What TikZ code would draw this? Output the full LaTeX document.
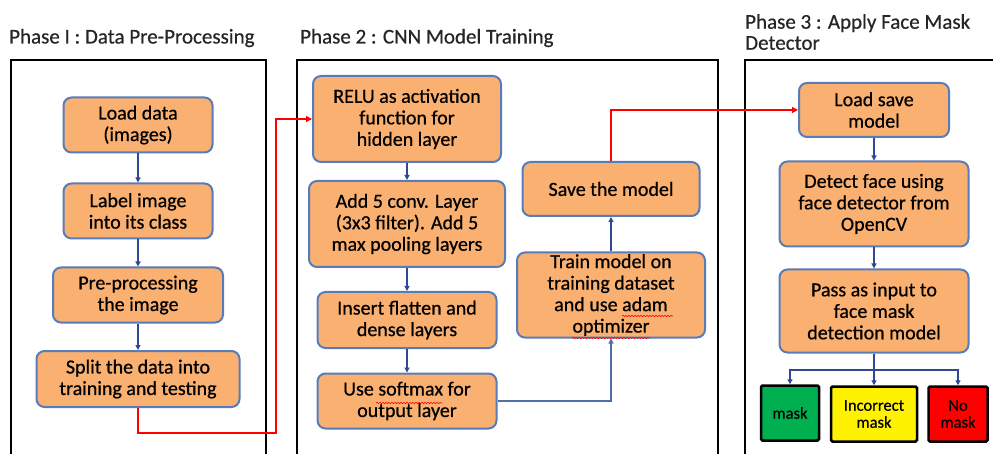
\documentclass[tikz,border=0pt]{standalone}
\usepackage{fontspec}
\setmainfont{Carlito}
\newfontfamily\heavyfont[FakeBold=0.6]{Carlito}
\usetikzlibrary{arrows.meta,decorations.pathmorphing}
\definecolor{boxorange}{RGB}{250,176,112}
\definecolor{boxblue}{RGB}{88,124,186}
\definecolor{arrblue}{RGB}{46,72,146}
\definecolor{okgreen}{RGB}{0,176,80}
\tikzset{
  stage/.style={draw=boxblue, line width=2pt, fill=boxorange, rounded corners=8pt,
    align=center, inner sep=0pt, text=black,
    font=\heavyfont\fontsize{20}{21.5}\selectfont},
  result/.style={draw=black, line width=2.5pt, rounded corners=1.5pt,
    align=center, inner sep=0pt, minimum height=55,
    font=\heavyfont\fontsize{16.5}{17}\selectfont},
  frame/.style={draw=black, line width=2.6pt},
  title/.style={anchor=west, inner sep=0pt, align=left, text=black!85,
    font=\heavyfont\fontsize{21}{21}\selectfont},
  flow/.style={draw=arrblue, line width=1.2pt, -{Triangle[length=5pt,width=5pt]}},
  phaselink/.style={draw=red, line width=1.3pt, -{Triangle[length=6pt,width=6pt]}},
  squiggle/.style={draw=red, line width=0.6pt, decorate,
    decoration={snake, amplitude=0.7pt, segment length=3pt}}
}
\begin{document}
\begin{tikzpicture}[x=1pt,y=-1pt]
\useasboundingbox (0,0) rectangle (993,454);

% phase frames (open at the bottom)
\draw[frame] (11,470) -- (11,60) -- (266,60) -- (266,470);
\draw[frame] (297,470) -- (297,60) -- (718,60) -- (718,470);
\draw[frame] (745,470) -- (745,60) -- (1000,60);

% phase titles
\node[title] (t1) at (9,38) {Phase I : Data Pre-Processing};
\node[title] (t2) at (300,38) {Phase 2 : CNN Model Training};
\node[title] (t3) at (745,32) {Phase 3 : Apply Face Mask\\Detector};

% phase 1
\node[stage, minimum width=149, minimum height=55] (load)  at (138,125) {Load data\\(images)};
\node[stage, minimum width=149, minimum height=55] (label) at (138,211) {Label image\\into its class};
\node[stage, minimum width=170, minimum height=55] (prep)  at (138,295) {Pre-processing\\the image};
\node[stage, minimum width=203, minimum height=56] (split) at (138,379) {Split the data into\\training and testing};

% phase 2
\node[stage, minimum width=188, minimum height=86] (relu)    at (407,119) {RELU as activation\\function for\\hidden layer};
\node[stage, minimum width=196, minimum height=86] (conv)    at (407,224) {Add 5 conv. Layer\\(3x3 filter). Add 5\\max pooling layers};
\node[stage, minimum width=179, minimum height=56] (flat)    at (407,320) {Insert flatten and\\dense layers};
\node[stage, minimum width=179, minimum height=55] (softmax) at (407,401) {Use softmax for\\output layer};
\node[stage, minimum width=188, minimum height=85] (train)   at (611,295) {Train model on\\training dataset\\and use adam\\optimizer};
\node[stage, minimum width=177, minimum height=54] (save)    at (611,189) {Save the model};

% phase 3
\node[stage, minimum width=150, minimum height=54] (loadsave) at (874,110) {Load save\\model};
\node[stage, minimum width=189, minimum height=85] (detect)   at (874,204) {Detect face using\\face detector from\\OpenCV};
\node[stage, minimum width=189, minimum height=83] (pass)     at (874,311) {Pass as input to\\face mask\\detection model};
\node[result, fill=okgreen, minimum width=58] (mask)      at (790,413) {mask};
\node[result, fill=yellow, minimum width=86]  (incorrect) at (874,414) {Incorrect\\mask};
\node[result, fill=red,    minimum width=59]  (nomask)    at (958,414) {No\\mask};

% spell-check marks under words in the boxes
\draw[squiggle] (376,403) -- (442,403);
\draw[squiggle] (622,316) -- (673,316);
\draw[squiggle] (572,338) -- (650,338);

% flow inside phase 1
\draw[flow] (load) -- (label);
\draw[flow] (label) -- (prep);
\draw[flow] (prep) -- (split);

% flow inside phase 2
\draw[flow] (relu) -- (conv);
\draw[flow] (conv) -- (flat);
\draw[flow] (flat) -- (softmax);
\draw[flow, draw=boxblue!90!black] (softmax.east) -| (train.south);
\draw[flow] (train) -- (save);

% flow inside phase 3
\draw[flow] (loadsave) -- (detect);
\draw[flow] (detect) -- (pass);
\coordinate (branch) at (874,370);
\draw[draw=arrblue, line width=1.2pt] (pass) -- (branch);
\draw[flow] (branch) -| (mask.north);
\draw[flow] (branch) -- (incorrect.north);
\draw[flow] (branch) -| (nomask.north);

% links between phases
\coordinate (gap) at (276,433);
\draw[phaselink] (split.south) |- (gap) |- (relu.west);
\draw[phaselink] (save.north) |- (loadsave.west);
\end{tikzpicture}
\end{document}
